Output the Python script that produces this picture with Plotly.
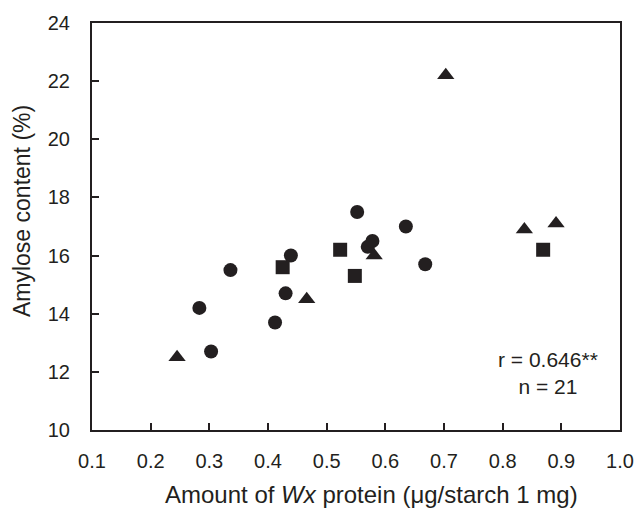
import plotly.graph_objects as go

circle_x = [0.283, 0.303, 0.336, 0.412, 0.430, 0.439, 0.552, 0.570, 0.578, 0.635, 0.668]
circle_y = [14.2, 12.7, 15.5, 13.7, 14.7, 16.0, 17.5, 16.3, 16.5, 17.0, 15.7]
square_x = [0.425, 0.523, 0.548, 0.869]
square_y = [15.6, 16.2, 15.3, 16.2]
triangle_x = [0.245, 0.466, 0.581, 0.703, 0.837, 0.891]
triangle_y = [12.5, 14.5, 16.0, 22.2, 16.9, 17.1]

x_ticks = [0.1, 0.2, 0.3, 0.4, 0.5, 0.6, 0.7, 0.8, 0.9, 1.0]
x_ticklabels = ["0.1", "0.2", "0.3", "0.4", "0.5", "0.6", "0.7", "0.8", "0.9", "1.0"]
y_ticks = [10, 12, 14, 16, 18, 20, 22, 24]

x_title = "Amount of <i>Wx</i> protein (μg/starch 1 mg)"
y_title = "Amylose content (%)"
stats_text = "r = 0.646**<br>n = 21"

ink = "#231f20"
font = "Liberation Sans, Arial, sans-serif"

fig = go.Figure()
fig.add_trace(go.Scatter(x=circle_x, y=circle_y, mode="markers",
                         marker=dict(symbol="circle", size=14, color=ink)))
fig.add_trace(go.Scatter(x=square_x, y=square_y, mode="markers",
                         marker=dict(symbol="square", size=14, color=ink)))
fig.add_trace(go.Scatter(x=triangle_x, y=triangle_y, mode="markers",
                         marker=dict(symbol="triangle-up", size=15, color=ink)))

fig.add_annotation(x=0.877, y=11.95, xref="x", yref="y",
                   text=stats_text, showarrow=False, align="center",
                   font=dict(family=font, size=21, color=ink))

# axis titles (placed as in the reference, slightly off-centre)
fig.add_annotation(x=0.530, y=0, xref="paper", yref="paper",
                   xanchor="center", yanchor="middle", yshift=-64,
                   text=x_title, showarrow=False,
                   font=dict(family=font, size=24, color=ink))
fig.add_annotation(x=0, y=0.538, xref="paper", yref="paper",
                   xanchor="center", yanchor="middle", xshift=-70,
                   text=y_title, textangle=-90, showarrow=False,
                   font=dict(family=font, size=23, color=ink))

fig.update_layout(
    width=635, height=511,
    margin=dict(l=92, r=15, t=23, b=81),
    paper_bgcolor="white", plot_bgcolor="white",
    showlegend=False,
    font=dict(family=font, size=20, color=ink),
)
fig.update_xaxes(range=[0.1, 1.0], tickvals=x_ticks, ticktext=x_ticklabels,
                 ticks="inside", ticklen=7, tickwidth=1.5, tickcolor=ink,
                 showline=True, linecolor=ink, linewidth=2, mirror=True,
                 showgrid=False, zeroline=False, automargin=False,
                 ticklabelstandoff=12)
fig.update_yaxes(range=[10, 24], tickvals=y_ticks,
                 ticks="inside", ticklen=7, tickwidth=1.5, tickcolor=ink,
                 showline=True, linecolor=ink, linewidth=2, mirror=True,
                 showgrid=False, zeroline=False, automargin=False,
                 ticklabelstandoff=16)

fig.write_html("out.html", config={"displayModeBar": False},
               post_script="document.body.style.margin='0';")
